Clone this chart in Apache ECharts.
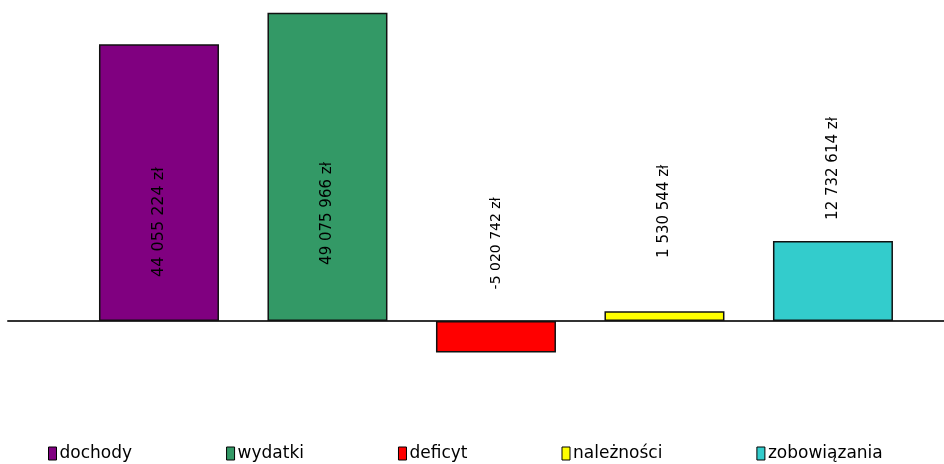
<!DOCTYPE html>
<html>
<head>
<meta charset="utf-8">
<script src="https://cdn.jsdelivr.net/npm/echarts@6/dist/echarts.min.js"></script>
<style>
  html, body { margin: 0; padding: 0; background: #fff; }
  #budget-chart { width: 944px; height: 464px; }
</style>
</head>
<body>
<div id="budget-chart"></div>
<script>
  let categories = ['dochody', 'wydatki', 'deficyt', 'należności', 'zobowiązania'];
  let values = [44055224, 49075966, -5020742, 1530544, 12732614];
  let colors = ['#800080', '#339966', '#ff0000', '#ffff00', '#33cccc'];
  // odstęp etykiety od dołu słupka i rozmiar czcionki
  let labelDistance = [44, 56, 63, 63, 101];
  let labelSize = [16, 15, 14, 15, 15];

  function formatPln(v) {
    let s = String(Math.abs(v)).replace(/\B(?=(\d{3})+(?!\d))/g, ' ');
    return (v < 0 ? '-' : '') + s + ' zł';
  }

  let myChart = echarts.init(document.getElementById('budget-chart'));

  let series = categories.map(function (name, i) {
    return {
      name: name,
      type: 'bar',
      stack: 'all',
      barWidth: 120,
      data: [[i, values[i]]],
      itemStyle: {
        color: colors[i],
        borderColor: '#111',
        borderWidth: 1.5
      },
      label: {
        show: true,
        position: 'insideBottom',
        distance: labelDistance[i],
        rotate: 90,
        align: 'left',
        verticalAlign: 'middle',
        color: '#000',
        fontFamily: 'DejaVu Sans',
        fontSize: labelSize[i],
        formatter: function (p) {
          return formatPln(p.value[1]);
        }
      },
      emphasis: { disabled: true }
    };
  });

  let option = {
    animation: false,
    backgroundColor: '#fff',
    grid: {
      left: 8,
      right: 0,
      top: 0,
      height: 400
    },
    legend: {
      data: categories,
      icon: 'rect',
      left: 43,
      top: 440,
      itemGap: 94,
      itemWidth: 8,
      itemHeight: 13,
      itemStyle: { borderColor: '#000', borderWidth: 1 },
      textStyle: {
        color: '#000',
        fontFamily: 'DejaVu Sans',
        fontSize: 17,
        padding: [0, 0, 0, -2]
      }
    },
    xAxis: {
      type: 'value',
      min: -0.896,
      max: 4.659,
      axisLine: {
        onZero: true,
        lineStyle: { color: '#333', width: 2 }
      },
      axisTick: { show: false },
      axisLabel: { show: false },
      splitLine: { show: false }
    },
    yAxis: {
      type: 'value',
      min: -12600000,
      max: 51100000,
      axisLine: { show: false },
      axisTick: { show: false },
      axisLabel: { show: false },
      splitLine: { show: false }
    },
    series: series
  };
  myChart.setOption(option);

  window.addEventListener('resize', function () {
    myChart.resize();
  });
</script>
</body>
</html>
